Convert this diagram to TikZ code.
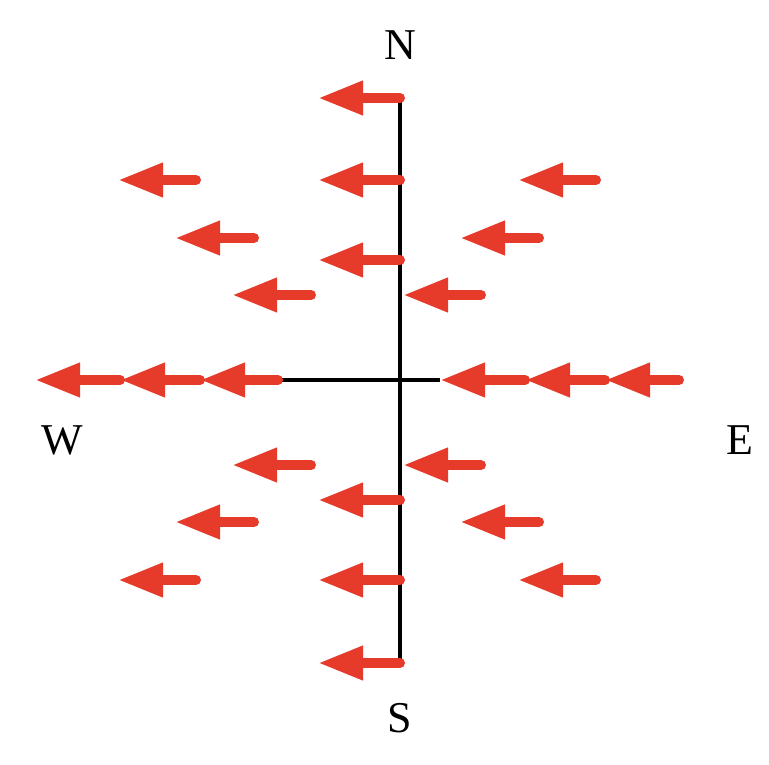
\documentclass[tikz,border=0pt]{standalone}
\usepackage{fontspec}
\setmainfont{Liberation Serif}
\usetikzlibrary{arrows.meta}
\definecolor{vred}{HTML}{E63A2B}
\begin{document}
\begin{tikzpicture}[x=1pt,y=-1pt,
  vec/.style={draw=vred,line width=10pt,line cap=round,-{Triangle[length=45pt,width=32pt]}},
  axis/.style={draw=black,line width=4pt},
  lab/.style={font=\fontsize{44}{44}\selectfont}]
\useasboundingbox (0,0) rectangle (769,764);
% axes
\coordinate (Ntop) at (400,98);
\coordinate (Sbot) at (400,663);
\coordinate (Wend) at (278,380);
\coordinate (Eend) at (440,380);
\draw[axis] (Ntop) -- (Sbot);
\draw[axis] (Wend) -- (Eend);
% labels
\node[lab] (N) at (400,45) {N};
\node[lab] (S) at (400,718) {S};
\node[lab] (W) at (62,440) {W};
\node[lab] (E) at (740,440) {E};
% vectors: tail x, tip x, y
\foreach \a/\b/\y in {
  400/318/98,
  196/118/180, 400/318/180, 596/518/180,
  254/175/238, 539/460/238,
  400/318/260,
  311/232/295, 481/403/295,
  120/35/380, 200/120/380, 278/200/380,
  525/440/380, 605/525/380, 679/605/380,
  311/232/465, 481/403/465,
  400/318/500,
  254/175/522, 539/460/522,
  196/118/580, 400/318/580, 596/518/580,
  400/318/663}
  \draw[vec] (\a,\y) -- (\b,\y);
\end{tikzpicture}
\end{document}
